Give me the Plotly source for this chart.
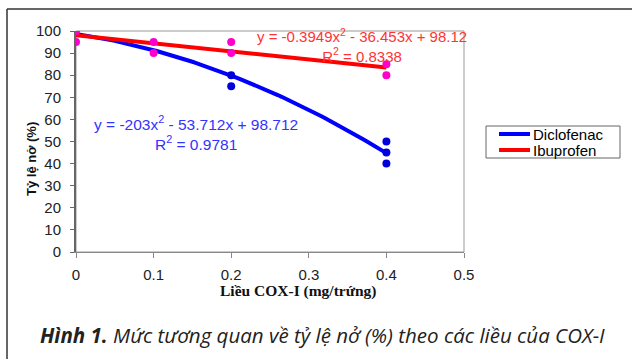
import numpy as np
import plotly.graph_objects as go

# Observed data
dic_x = [0.2, 0.2, 0.4, 0.4, 0.4]
dic_y = [80, 75, 50, 45, 40]
ibu_x = [0, 0, 0.1, 0.1, 0.2, 0.2, 0.4, 0.4]
ibu_y = [100, 95, 95, 90, 95, 90, 85, 80]

# Trendline coefficients (a, b, c) for y = a x^2 + b x + c, as printed in the chart
dic_coef = [-203, -53.712, 98.712]
ibu_coef = [-0.3949, -36.453, 98.12]
dic_label = "y = -203x<sup>2</sup> - 53.712x + 98.712<br>R<sup>2</sup> = 0.9781"
ibu_label = "y = -0.3949x<sup>2</sup> - 36.453x + 98.12<br>R<sup>2</sup> = 0.8338"

series_names = ["Diclofenac", "Ibuprofen"]
series_colors = ["#0000FF", "#FF0000"]

x_ticks = [0, 0.1, 0.2, 0.3, 0.4, 0.5]
y_ticks = list(range(0, 101, 10))

fit_x = np.linspace(0, 0.4, 81)
dic_fit = np.polyval(dic_coef, fit_x)
ibu_fit = np.polyval(ibu_coef, fit_x)

# pixel helpers for layout placement (plot area: x 76..464, y 31..252)
L, R, T, B = 76, 464, 31, 252
def px(x):
    return (x - L) / (R - L)
def py(y):
    return (B - y) / (B - T)

fig = go.Figure()
fig.add_trace(go.Scatter(x=fit_x, y=dic_fit, mode="lines", name=series_names[0],
                         line=dict(color=series_colors[0], width=4)))
fig.add_trace(go.Scatter(x=fit_x, y=ibu_fit, mode="lines", name=series_names[1],
                         line=dict(color=series_colors[1], width=4)))
fig.add_trace(go.Scatter(x=dic_x, y=dic_y, mode="markers", showlegend=False,
                         marker=dict(color="#0000DD", size=8)))
fig.add_trace(go.Scatter(x=ibu_x, y=ibu_y, mode="markers", showlegend=False,
                         marker=dict(color="#FF00CC", size=8)))

fig.add_annotation(xref="paper", yref="paper", x=px(196), y=py(133), text=dic_label,
                   showarrow=False, align="center", xanchor="center", yanchor="middle",
                   font=dict(family="Liberation Sans", size=15.5, color="#3333FF"))
fig.add_annotation(xref="paper", yref="paper", x=px(469), y=py(45), text=ibu_label,
                   showarrow=False, align="center", xanchor="right", yanchor="middle",
                   font=dict(family="Liberation Sans", size=15, color="#FF3333"))

# plot border box
fig.add_shape(type="rect", xref="paper", yref="paper", x0=0, x1=1, y0=0, y1=1,
              line=dict(color="#999999", width=1), layer="below")
# outer frame lines
fig.add_shape(type="line", xref="paper", yref="paper", x0=px(7), x1=px(640), y0=py(9), y1=py(9),
              line=dict(color="#333333", width=1.5))
fig.add_shape(type="line", xref="paper", yref="paper", x0=px(7), x1=px(7), y0=py(9), y1=py(370),
              line=dict(color="#333333", width=1.5))

# legend (drawn manually for compact spacing)
fig.add_shape(type="rect", xref="paper", yref="paper", x0=px(486), x1=px(620), y0=py(158), y1=py(126),
              line=dict(color="#666666", width=1), fillcolor="white")
for i, (name, col) in enumerate(zip(series_names, series_colors)):
    yy = 134 + 16 * i
    fig.add_shape(type="line", xref="paper", yref="paper", x0=px(499), x1=px(530), y0=py(yy), y1=py(yy),
                  line=dict(color=col, width=4))
    fig.add_annotation(xref="paper", yref="paper", x=px(531), y=py(yy), text=name, showarrow=False,
                       xanchor="left", yanchor="middle",
                       font=dict(family="Liberation Sans", size=15, color="black"))

# axis titles
fig.add_annotation(xref="paper", yref="paper", x=px(298), y=py(291),
                   text="<b>Liều COX-I (mg/trứng)</b>", showarrow=False,
                   xanchor="center", yanchor="middle",
                   font=dict(family="Liberation Serif", size=15.5, color="#111111"))
fig.add_annotation(xref="paper", yref="paper", x=px(31), y=py(159),
                   text="<b>Tỷ lệ nở (%)</b>", showarrow=False, textangle=-90,
                   xanchor="center", yanchor="middle",
                   font=dict(family="Liberation Sans", size=13, color="#111111"))

# caption
fig.add_annotation(xref="paper", yref="paper", x=px(38), y=py(335),
                   text="<b>Hình 1.</b> Mức tương quan về tỷ lệ nở (%) theo các liều của COX-I",
                   showarrow=False, xanchor="left", yanchor="middle",
                   font=dict(family="Open Sans", size=20.5, color="#222222", style="italic"))

fig.update_layout(
    width=632, height=359,
    margin=dict(l=L, r=632 - R, t=T, b=359 - B),
    paper_bgcolor="white", plot_bgcolor="white",
    showlegend=False,
    xaxis=dict(range=[0, 0.5], tickvals=x_ticks, ticktext=[str(v) for v in x_ticks],
               showgrid=False, zeroline=False, showline=True, linecolor="#888888", linewidth=1,
               ticks="outside", ticklen=5, tickcolor="#888888", ticklabelstandoff=4,
               tickfont=dict(family="Liberation Sans", size=15, color="#222222")),
    yaxis=dict(range=[0, 100], tickvals=y_ticks,
               showgrid=False, zeroline=False, showline=True, linecolor="#666666", linewidth=2,
               ticks="outside", ticklen=4, tickcolor="#666666", ticklabelstandoff=6,
               tickfont=dict(family="Liberation Sans", size=15, color="#222222")),
)

fig.write_html("out.html")
